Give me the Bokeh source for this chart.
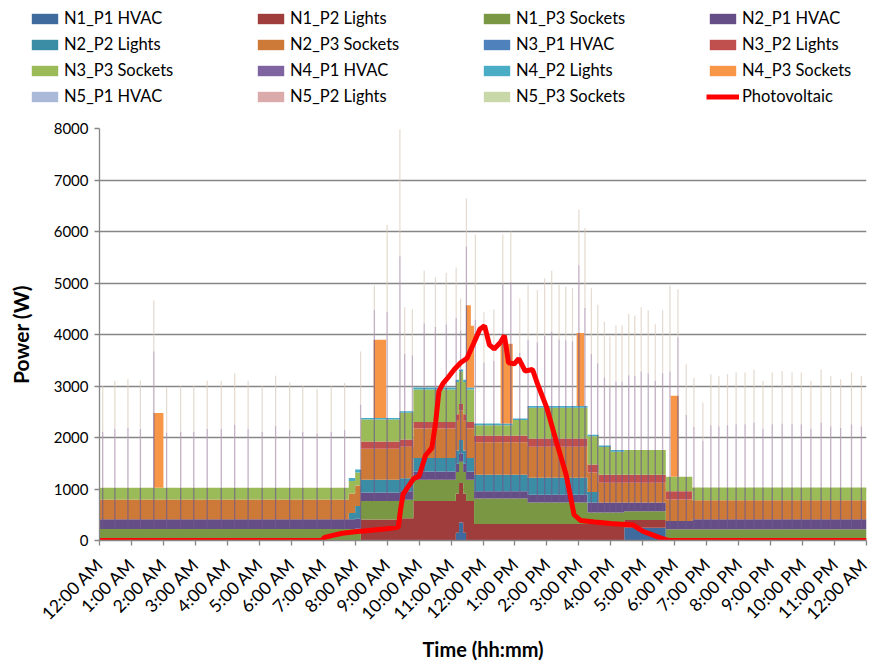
import numpy as np
from math import pi
from bokeh.plotting import figure
from bokeh.layouts import column
from bokeh.models import FixedTicker, Legend, LegendItem, Range1d
from bokeh.embed import file_html
from bokeh.resources import INLINE

# ---------------- data ----------------
series = ["N1_P1 HVAC", "N1_P2 Lights", "N1_P3 Sockets", "N2_P1 HVAC", "N2_P2 Lights", "N2_P3 Sockets",
          "N3_P1 HVAC", "N3_P2 Lights", "N3_P3 Sockets", "N4_P1 HVAC", "N4_P2 Lights", "N4_P3 Sockets",
          "N5_P1 HVAC", "N5_P2 Lights", "N5_P3 Sockets"]
colors = ["#3F6A9E", "#9E3D3B", "#7A9844", "#654D85", "#3A8DA5", "#CD7A38",
          "#4F81BD", "#C0504D", "#9BBB59", "#8064A2", "#4BACC6", "#F79646",
          "#AAB9D8", "#DAABAA", "#C8D8A9"]

# start of each interval (hours after midnight); each value holds until the next time
t_step = [0.00, 1.70, 2.00, 7.80, 8.00, 8.18, 8.58, 8.97, 9.40, 9.82,
          11.15, 11.25, 11.38, 11.47, 11.62, 11.72, 12.55, 12.93, 13.40, 14.93,
          15.17, 15.27, 15.62, 16.00, 16.42, 17.72, 17.87, 18.12, 18.55, 24.00]

n1_p1_hvac = [0, 0, 0, 0, 0, 0, 0, 0, 0, 0,
              150, 350, 150, 0, 0, 0, 0, 0, 0, 0,
              0, 0, 0, 0, 250, 0, 0, 0, 0, 0]
n1_p2_lights = [0, 0, 0, 0, 0, 410, 410, 410, 430, 765,
                765, 765, 765, 765, 765, 320, 320, 320, 320, 320,
                320, 320, 320, 320, 150, 0, 0, 0, 0, 0]
n1_p3_sockets = [225, 225, 225, 225, 230, 355, 355, 355, 360, 415,
                 415, 415, 415, 415, 415, 495, 495, 495, 420, 420,
                 420, 225, 225, 225, 170, 220, 220, 220, 220, 220]
n2_p1_hvac = [190, 190, 190, 190, 190, 165, 165, 165, 165, 160,
              160, 160, 160, 160, 160, 140, 140, 140, 150, 150,
              150, 195, 195, 195, 170, 160, 160, 160, 195, 195]
n2_p2_lights = [0, 0, 0, 120, 250, 250, 250, 250, 255, 260,
                260, 260, 260, 260, 260, 320, 320, 320, 330, 330,
                330, 200, 0, 0, 0, 0, 0, 0, 0, 0]
n2_p3_sockets = [380, 380, 380, 380, 400, 600, 600, 600, 610, 575,
                 575, 575, 575, 575, 575, 635, 635, 635, 600, 600,
                 600, 380, 380, 380, 380, 415, 415, 415, 365, 365]
n3_p1_hvac = [0, 0, 0, 0, 0, 0, 0, 0, 0, 0,
              0, 0, 0, 0, 0, 0, 0, 0, 0, 0,
              0, 0, 0, 0, 0, 0, 0, 0, 0, 0]
n3_p2_lights = [0, 0, 0, 0, 0, 140, 140, 140, 140, 125,
                125, 125, 125, 125, 125, 130, 130, 130, 160, 160,
                160, 155, 155, 155, 155, 160, 160, 160, 0, 0]
n3_p3_sockets = [230, 230, 230, 240, 250, 430, 430, 430, 520, 630,
                 630, 630, 630, 630, 630, 200, 200, 300, 600, 600,
                 600, 550, 540, 450, 480, 285, 285, 285, 250, 250]
n4_p1_hvac = [0, 0, 0, 0, 0, 0, 0, 0, 0, 0,
              0, 0, 0, 0, 0, 0, 0, 0, 0, 0,
              0, 0, 0, 0, 0, 0, 0, 0, 0, 0]
n4_p2_lights = [0, 0, 0, 60, 60, 30, 30, 30, 30, 40,
                40, 40, 40, 40, 40, 30, 30, 30, 30, 30,
                30, 30, 30, 30, 0, 0, 0, 0, 0, 0]
n4_p3_sockets = [0, 1450, 0, 0, 0, 0, 1520, 0, 0, 0,
                 0, 0, 0, 1600, 1200, 0, 1550, 0, 0, 1420,
                 0, 0, 0, 0, 0, 0, 1570, 0, 0, 0]
n5_p1_hvac = [0, 0, 0, 0, 0, 0, 0, 0, 0, 0,
              0, 0, 0, 0, 0, 0, 0, 0, 0, 0,
              0, 0, 0, 0, 0, 0, 0, 0, 0, 0]
n5_p2_lights = [0, 0, 0, 0, 0, 0, 0, 0, 0, 0,
                0, 0, 0, 0, 0, 0, 0, 0, 0, 0,
                0, 0, 0, 0, 0, 0, 0, 0, 0, 0]
n5_p3_sockets = [0, 0, 0, 0, 0, 0, 0, 0, 0, 0,
                 0, 0, 0, 0, 0, 0, 0, 0, 0, 0,
                 0, 0, 0, 0, 0, 0, 0, 0, 0, 0]

# short load peaks (time in hours, peak of the stacked total in W)
spike_t = [0.10, 0.48, 0.89, 1.28, 1.70, 2.10, 2.54, 2.95, 3.37, 3.81, 4.23, 4.65, 5.09, 5.51, 5.95,
           6.36, 6.81, 7.25, 7.67,
           8.17, 8.60, 9.00, 9.40, 9.55, 9.79, 10.16, 10.51, 10.85, 11.16, 11.30, 11.48, 11.76,
           12.03, 12.34, 12.62, 12.87, 13.15, 13.41, 13.70, 13.93, 14.15, 14.38, 14.59, 14.80,
           15.00, 15.19, 15.39, 15.59, 15.80, 15.97, 16.16, 16.35, 16.56, 16.75, 16.95, 17.17,
           17.39, 17.62, 17.85, 18.10, 18.36, 18.60, 18.88, 19.13, 19.38, 19.65, 19.92, 20.20,
           20.48, 20.76, 21.05, 21.36, 21.67, 21.96, 22.26, 22.58, 22.88, 23.19, 23.53, 23.84]
spike_w = [3000, 3100, 3130, 3100, 4660, 2970, 3000, 3000, 3100, 3100, 3250, 3100, 3000, 3200, 3070,
           3000, 2940, 3000, 3060,
           3670, 4950, 6130, 7980, 4530, 4490, 5240, 5110, 5200, 5300, 4700, 6640, 5940,
           4430, 4490, 5940, 6000, 4700, 4960, 4860, 5090, 5240, 4960, 4930, 4900,
           6420, 6070, 4900, 4580, 4250, 3960, 4180, 4180, 4400, 4370, 4530, 4470,
           4200, 4470, 4950, 4880, 3420, 3160, 2680, 3230, 3190, 3230, 3260, 3260,
           3320, 3100, 3260, 3290, 3260, 3260, 3100, 3320, 3190, 3130, 3260, 3190]

# photovoltaic production
pv_t = [0.00, 6.95, 7.05, 7.30, 7.60, 8.00, 8.50, 9.00, 9.35, 9.42, 9.50, 9.83, 10.00, 10.20, 10.40,
        10.52, 10.62, 10.75, 10.90, 11.10, 11.30, 11.50, 11.71, 11.90, 12.05, 12.20, 12.35, 12.55,
        12.67, 12.80, 12.98, 13.12, 13.32, 13.55, 13.70, 14.00, 14.30, 14.60, 14.85, 15.05, 15.50,
        16.00, 16.70, 17.00, 17.30, 17.55, 17.80, 24.00]
pv_w = [0, 0, 60, 100, 140, 170, 200, 230, 260, 600, 900, 1200, 1250, 1650, 1800,
        2300, 2900, 3050, 3160, 3320, 3450, 3540, 3830, 4100, 4170, 3800, 3720, 3850,
        3980, 3450, 3430, 3530, 3290, 3320, 3050, 2570, 1910, 1280, 500, 390, 360,
        330, 300, 180, 110, 50, 0, 0]

hours = list(range(25))
hour_labels = ["12:00 AM", "1:00 AM", "2:00 AM", "3:00 AM", "4:00 AM", "5:00 AM", "6:00 AM",
               "7:00 AM", "8:00 AM", "9:00 AM", "10:00 AM", "11:00 AM", "12:00 PM", "1:00 PM",
               "2:00 PM", "3:00 PM", "4:00 PM", "5:00 PM", "6:00 PM", "7:00 PM", "8:00 PM",
               "9:00 PM", "10:00 PM", "11:00 PM", "12:00 AM"]
y_ticks = [0, 1000, 2000, 3000, 4000, 5000, 6000, 7000, 8000]

layers = [n1_p1_hvac, n1_p2_lights, n1_p3_sockets, n2_p1_hvac, n2_p2_lights, n2_p3_sockets,
          n3_p1_hvac, n3_p2_lights, n3_p3_sockets, n4_p1_hvac, n4_p2_lights, n4_p3_sockets,
          n5_p1_hvac, n5_p2_lights, n5_p3_sockets]
assert len(spike_t) == len(spike_w)
assert len(pv_t) == len(pv_w)

FONT = "Lato"
W = 871
LEG_H = 118

# ---------------- legend strip ----------------
lf = figure(width=W, height=LEG_H, output_backend="svg", toolbar_location=None,
            x_range=Range1d(0, 1), y_range=Range1d(0, 1),
            x_axis_location=None, y_axis_location=None, min_border=0)
lf.outline_line_color = None
lf.grid.visible = False
# swatch carriers kept outside the visible range
leg_r = [lf.varea(x=[2, 3], y1=[0, 0], y2=[1, 1], fill_color=c) for c in colors]
leg_pv = lf.line(x=[2, 3], y=[0, 0], line_color="#FF0000", line_width=5)
items = [LegendItem(label=name, renderers=[leg_r[k]]) for k, name in enumerate(series)]
items.append(LegendItem(label="Photovoltaic", renderers=[leg_pv]))
# the legend fills column by column: reorder so it reads row by row
ncol, nrow = 4, 4
items = [items[r * ncol + c] for c in range(ncol) for r in range(nrow)]
legend = Legend(items=items, location=(28, 12), ncols=ncol,
                glyph_width=33, glyph_height=13, label_standoff=3, label_width=184,
                label_height=20, spacing=6, padding=0, margin=0,
                border_line_color=None, background_fill_alpha=0,
                label_text_font=FONT, label_text_font_size="16.5px", label_text_color="#000000")
lf.add_layout(legend)

# ---------------- main chart ----------------
p = figure(width=W, height=664 - LEG_H, output_backend="svg", toolbar_location=None,
           x_range=Range1d(0, 24), y_range=Range1d(0, 8000),
           min_border_left=99, min_border_right=5, min_border_top=10, min_border_bottom=117)
p.outline_line_color = None
p.xgrid.grid_line_color = None
p.ygrid.grid_line_color = "#868686"
p.ygrid.grid_line_width = 1.3

# keep each plot's frame where it is (no frame alignment inside the column)
for fig in (lf, p):
    try:
        fig.frame_align = False
    except Exception:
        pass

vals = np.array(layers, dtype=float)
cum = np.cumsum(vals, axis=0)
x = np.array(t_step)
for k, name in enumerate(series):
    lower = cum[k - 1] if k > 0 else np.zeros_like(x)
    p.varea_step(x=x, y1=lower, y2=cum[k], step_mode="after", fill_color=colors[k])

# load peaks drawn through the stack
st = np.array(spike_t)
sw = np.array(spike_w, dtype=float)
idx = np.searchsorted(x, st, side="right") - 1
base = cum[2][idx]
top = cum[-1][idx]
mid = top + 0.55 * (sw - top)
p.segment(x0=st, y0=base, x1=st, y1=top, line_color="#6F5A8C", line_alpha=0.7, line_width=1.3)
p.segment(x0=st, y0=top, x1=st, y1=mid, line_color="#B49CB4", line_alpha=0.8, line_width=1.3)
p.segment(x0=st, y0=mid, x1=st, y1=sw, line_color="#D9CABB", line_alpha=0.7, line_width=1.2)

p.line(pv_t, pv_w, line_color="#FF0000", line_width=5)

# axes
p.yaxis.ticker = FixedTicker(ticks=y_ticks)
p.xaxis.ticker = FixedTicker(ticks=hours)
p.xaxis.major_label_overrides = {h: lab for h, lab in zip(hours, hour_labels)}
p.xaxis.major_label_orientation = pi / 4
for ax in (p.xaxis[0], p.yaxis[0]):
    ax.axis_line_color = "#868686"
    ax.axis_line_width = 1.3
    ax.major_tick_line_color = "#868686"
    ax.major_tick_line_width = 1.3
    ax.major_tick_out = 5
    ax.major_tick_in = 0
    ax.minor_tick_line_color = None
    ax.major_label_text_font = FONT
    ax.major_label_text_color = "#000000"
    ax.axis_label_text_font = FONT
    ax.axis_label_text_font_style = "bold"
    ax.axis_label_text_color = "#000000"
p.yaxis.major_label_text_font_size = "15px"
p.xaxis.major_label_text_font_size = "17.5px"
p.yaxis.axis_label = "Power (W)"
p.yaxis.axis_label_text_font_size = "21px"
p.yaxis.major_label_standoff = 6
p.yaxis.axis_label_standoff = 18
p.xaxis.axis_label = "Time (hh:mm)"
p.xaxis.axis_label_text_font_size = "20px"
p.xaxis.major_label_standoff = 16
p.xaxis.axis_label_standoff = 3

open("out.html", "w").write(file_html(column(lf, p, spacing=0), INLINE))
